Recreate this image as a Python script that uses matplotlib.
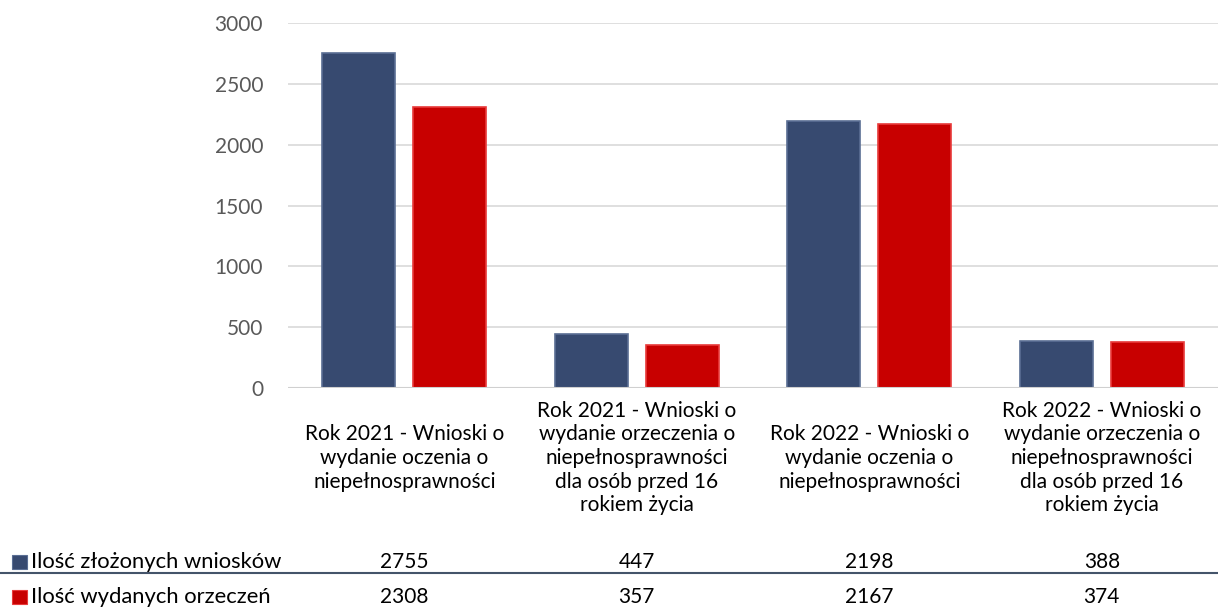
import matplotlib
matplotlib.use("Agg")
import matplotlib.pyplot as plt
from matplotlib.patches import Rectangle
from matplotlib.lines import Line2D
import numpy as np

categories = [
    "Rok 2021 - Wnioski o\nwydanie oczenia o\nniepełnosprawności",
    "Rok 2021 - Wnioski o\nwydanie orzeczenia o\nniepełnosprawności\ndla osób przed 16\nrokiem życia",
    "Rok 2022 - Wnioski o\nwydanie oczenia o\nniepełnosprawności",
    "Rok 2022 - Wnioski o\nwydanie orzeczenia o\nniepełnosprawności\ndla osób przed 16\nrokiem życia",
]
series_names = ["Ilość złożonych wniosków", "Ilość wydanych orzeczeń"]
zlozone = [2755, 447, 2198, 388]
wydane = [2308, 357, 2167, 374]
yticks = [0, 500, 1000, 1500, 2000, 2500, 3000]

colors = ["#374a70", "#c80000"]
edge = ["#5a6e94", "#e83a3a"]

plt.rcParams['font.family'] = ['Lato', 'DejaVu Sans']
FS = 15

W, H = 1218, 609
fig = plt.figure(figsize=(W / 100, H / 100), dpi=100)
ax = fig.add_axes([288 / W, 1 - 388 / H, 1 - 288 / W, (388 - 23) / H])

x = np.arange(len(categories))
bw = 0.314
gap = 0.077
off = (bw + gap) / 2
for vals, c, e, sgn in [(zlozone, colors[0], edge[0], -1), (wydane, colors[1], edge[1], 1)]:
    ax.bar(x + sgn * off, vals, width=bw, color=c, edgecolor=e, linewidth=1.2, zorder=3)

ax.set_xlim(-0.5, len(categories) - 0.5)
ax.set_ylim(0, 3000)
ax.set_yticks(yticks)
ax.set_yticklabels([str(v) for v in yticks], fontsize=FS, color="#595959")
ax.tick_params(axis='y', length=0, pad=18)
ax.set_xticks([])
ax.grid(axis='y', color="#d9d9d9", linewidth=1.2, zorder=0)
for s in ax.spines.values():
    s.set_visible(False)
ax.axhline(0, color="#d0d0d0", linewidth=1.5, zorder=4)

# category labels (data table header)
for i, lab in enumerate(categories):
    fig.text((288 + 232.5 * (i + 0.5)) / W, 1 - 458 / H, lab, ha='center', va='center',
             fontsize=FS, color="#000000", linespacing=1.22)

# data rows
row_y = [562, 597]
for r, (name, vals, c, e) in enumerate(zip(series_names, [zlozone, wydane], colors, edge)):
    yy = 1 - row_y[r] / H
    fig.patches.append(Rectangle((12 / W, yy - 7 / H), 15 / W, 14 / H, transform=fig.transFigure,
                                 facecolor=c, edgecolor=e, linewidth=0.8))
    fig.text(31 / W, yy, name, ha='left', va='center', fontsize=15.8, color="#000000")
    for i, v in enumerate(vals):
        fig.text((288 + 232.5 * (i + 0.5)) / W, yy, str(v), ha='center', va='center',
                 fontsize=FS, color="#000000")

fig.lines.append(Line2D([0, 1], [1 - 573 / H, 1 - 573 / H], transform=fig.transFigure,
                        color="#44546a", linewidth=1.5))

fig.savefig("out.png", dpi=100)
